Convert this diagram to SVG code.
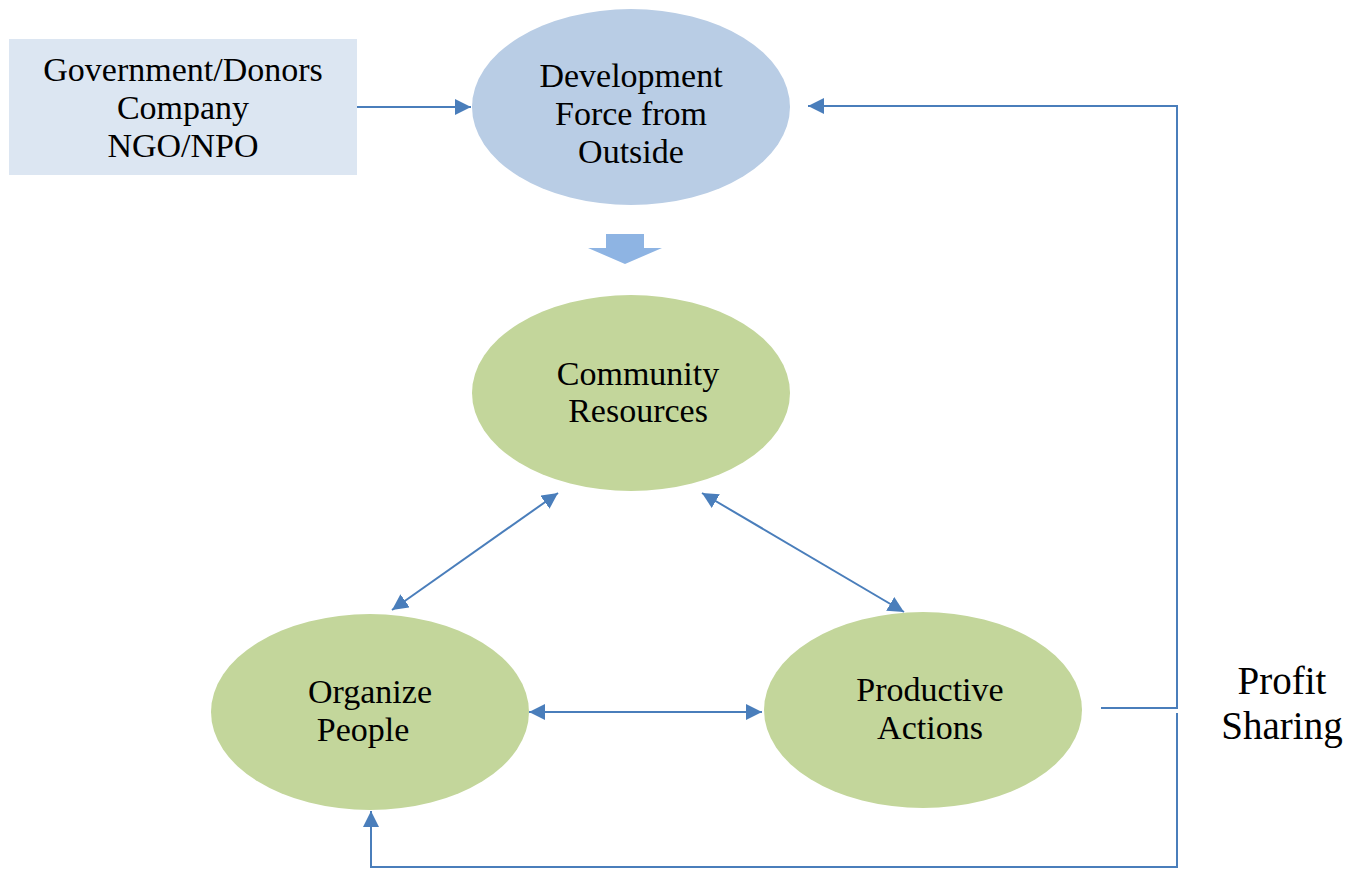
<svg xmlns="http://www.w3.org/2000/svg" width="1350" height="869" viewBox="0 0 1350 869">
<style>
text{font-family:"Liberation Serif","DejaVu Serif",serif;font-size:34px;fill:#000;text-anchor:middle}
.big{font-size:39px}
.ln{stroke:#4A7EBB;stroke-width:2;fill:none}
</style>
<defs>
<marker id="ah" viewBox="0 0 10 10" refX="10" refY="5" markerWidth="16" markerHeight="16" markerUnits="userSpaceOnUse" orient="auto-start-reverse">
<path d="M0,0 L10,5 L0,10 z" fill="#4A7EBB"/>
</marker>
</defs>
<rect width="1350" height="869" fill="#fff"/>
<g id="connectors">
<line class="ln" x1="357" y1="107" x2="471" y2="107" marker-end="url(#ah)"/>
<line class="ln" x1="558" y1="493" x2="392" y2="610" marker-start="url(#ah)" marker-end="url(#ah)"/>
<line class="ln" x1="702" y1="493" x2="904" y2="612" marker-start="url(#ah)" marker-end="url(#ah)"/>
<line class="ln" x1="529" y1="712" x2="762" y2="712" marker-start="url(#ah)" marker-end="url(#ah)"/>
<polyline class="ln" points="1101,708 1177,708 1177,106 808,106" marker-end="url(#ah)"/>
<polyline class="ln" points="1177,713 1177,867 371,867 371,811" marker-end="url(#ah)"/>
</g>
<g id="sources">
<rect x="9" y="39" width="348" height="136" fill="#DCE6F2"/>
<text x="183" y="81">Government/Donors</text>
<text x="183" y="119">Company</text>
<text x="183" y="157">NGO/NPO</text>
</g>
<g id="development">
<ellipse cx="631" cy="107" rx="159" ry="98" fill="#B9CDE5"/>
<text x="631" y="87">Development</text>
<text x="631" y="125">Force from</text>
<text x="631" y="163">Outside</text>
</g>
<g id="blockarrow">
<path d="M606,234 H644 V248 H662 L625,264 L588,248 H606 Z" fill="#8EB4E3"/>
</g>
<g id="community">
<ellipse cx="631" cy="393" rx="159" ry="98" fill="#C3D69B"/>
<text x="638" y="385">Community</text>
<text x="638" y="422">Resources</text>
</g>
<g id="organize">
<ellipse cx="370" cy="712" rx="159" ry="98" fill="#C3D69B"/>
<text x="370" y="703">Organize</text>
<text x="363" y="741">People</text>
</g>
<g id="productive">
<ellipse cx="923" cy="710" rx="159" ry="98" fill="#C3D69B"/>
<text x="930" y="701">Productive</text>
<text x="930" y="739">Actions</text>
</g>
<g id="profit">
<text class="big" x="1282" y="694">Profit</text>
<text class="big" x="1282" y="739">Sharing</text>
</g>
</svg>
